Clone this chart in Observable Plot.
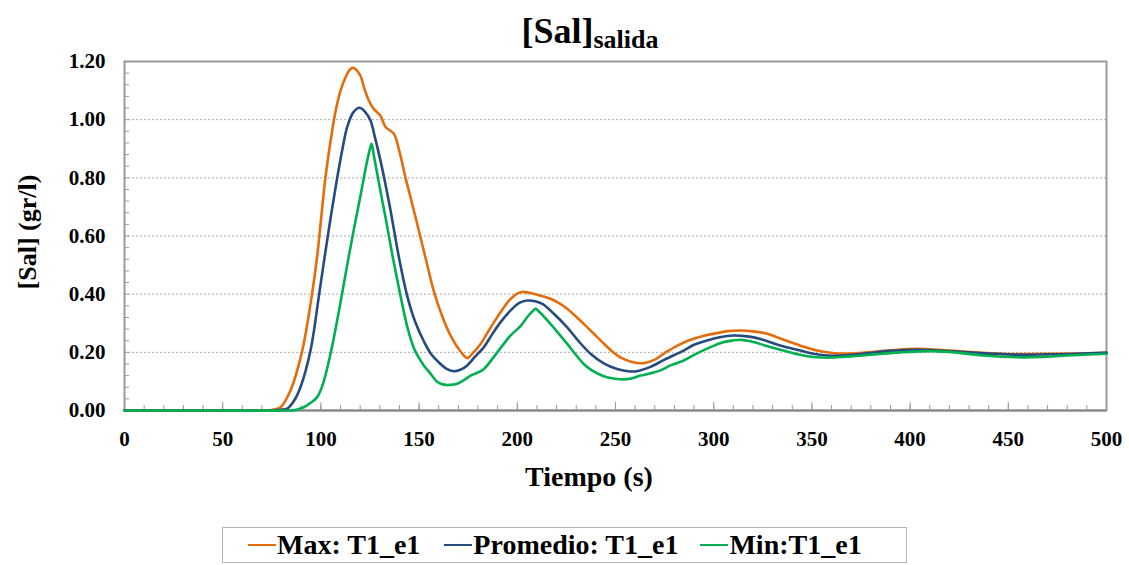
<!DOCTYPE html>
<html>
<head>
<meta charset="utf-8">
<script src="https://cdn.jsdelivr.net/npm/d3@7"></script>
<script src="https://cdn.jsdelivr.net/npm/@observablehq/plot@0.6"></script>
<style>
  html, body { margin: 0; padding: 0; background: #fff; }
  #chart { position: relative; width: 1129px; height: 565px; font-family: "Liberation Serif", "Times New Roman", "Nimbus Roman", "FreeSerif", "DejaVu Serif", serif; font-weight: bold; color: #000; }
  #chart svg { position: absolute; left: 0; top: 0; }
  .title { position: absolute; left: 440px; width: 300px; top: 13px; text-align: center; font-size: 36px; line-height: 1; white-space: nowrap; }
  .title sub { font-size: 26px; vertical-align: -5px; }
  .xlabel { position: absolute; left: 489px; width: 200px; top: 463px; text-align: center; font-size: 28px; line-height: 1; }
  .ylabel { position: absolute; left: 28px; top: 232px; font-size: 26px; line-height: 1; white-space: nowrap; transform: translate(-50%, -50%) rotate(-90deg); }
  .legend { position: absolute; left: 222px; top: 527px; width: 683px; height: 34px; border: 1.5px solid #b4b4b4; display: flex; align-items: center; font-size: 28px; line-height: 1; }
  .legend .item { display: flex; align-items: center; white-space: nowrap; }
  .legend .sw { display: inline-block; width: 28px; height: 2.5px; margin-right: 1px; }
</style>
</head>
<body>
<div id="chart">
  <div class="title">[Sal]<sub>salida</sub></div>
  <div class="xlabel">Tiempo (s)</div>
  <div class="ylabel">[Sal] (gr/l)</div>
  <div class="legend" id="legend"></div>
</div>
<script>
// Salt concentration at the outlet over time: max, mean and min runs.
const seriesNames = ["Max: T1_e1", "Promedio: T1_e1", "Min:T1_e1"];
const seriesColors = ["#E46C0A", "#264B80", "#00B050"];

const maxT = [0, 40, 70, 75, 79.4, 84.5, 90.5, 95.5, 98.1, 102.3, 105, 107.5, 110, 112.5, 114.5, 116, 118, 120.2, 122, 124.4, 126.9, 130.3, 132.9, 137.1, 140, 143.1, 145, 149, 153.2, 157.5, 162, 166, 170, 174.5, 177, 181.3, 185.5, 189.8, 196.6, 201.6, 206, 211.8, 216.9, 221, 225.4, 233.8, 242.4, 248, 252.5, 258, 264.4, 270, 276.3, 282, 288.2, 295, 301.7, 307, 313.6, 320, 327.2, 335, 344.2, 352, 361.2, 370, 378.2, 390, 403.6, 412, 420.6, 433, 446, 460, 471.5, 485, 500];
const maxV = [0, 0, 0, 0.002, 0.011, 0.069, 0.206, 0.401, 0.53, 0.8, 0.93, 1.03, 1.1, 1.145, 1.17, 1.178, 1.172, 1.15, 1.11, 1.066, 1.037, 1.014, 0.975, 0.952, 0.89, 0.8, 0.75, 0.642, 0.527, 0.41, 0.32, 0.258, 0.213, 0.18, 0.195, 0.229, 0.275, 0.321, 0.384, 0.407, 0.405, 0.395, 0.384, 0.37, 0.35, 0.298, 0.241, 0.205, 0.183, 0.168, 0.163, 0.175, 0.203, 0.225, 0.243, 0.257, 0.266, 0.273, 0.275, 0.272, 0.264, 0.245, 0.223, 0.207, 0.197, 0.196, 0.2, 0.207, 0.212, 0.21, 0.206, 0.2, 0.195, 0.194, 0.195, 0.196, 0.198];

const avgT = [0, 40, 75, 80, 82.8, 86, 89.6, 94.7, 98.9, 101.5, 104.9, 108.3, 111, 113.4, 116.5, 119.7, 122.5, 125.2, 127.5, 130.3, 132.5, 135.4, 138.8, 140.5, 143.9, 148, 152.4, 156, 160.9, 164, 167.7, 171, 174.5, 178.5, 183, 187, 191.4, 196.6, 201, 205, 209, 213, 219, 225.4, 231, 237.3, 244, 250.8, 257.6, 262, 267.8, 275, 284.7, 290, 296.6, 303, 310.2, 317, 323.8, 333, 344.2, 350, 357.8, 368, 378.2, 390, 403.6, 415, 429, 442, 454.5, 470, 485, 500];
const avgV = [0, 0, 0, 0.003, 0.006, 0.03, 0.08, 0.206, 0.39, 0.51, 0.66, 0.8, 0.9, 0.975, 1.025, 1.041, 1.027, 0.998, 0.94, 0.86, 0.79, 0.69, 0.56, 0.5, 0.395, 0.305, 0.238, 0.195, 0.16, 0.143, 0.135, 0.14, 0.155, 0.185, 0.218, 0.26, 0.303, 0.344, 0.37, 0.378, 0.376, 0.366, 0.33, 0.286, 0.24, 0.195, 0.162, 0.143, 0.134, 0.137, 0.15, 0.175, 0.206, 0.226, 0.241, 0.252, 0.258, 0.255, 0.246, 0.225, 0.206, 0.196, 0.189, 0.19, 0.197, 0.205, 0.209, 0.206, 0.2, 0.195, 0.192, 0.193, 0.195, 0.199];

const minT = [0, 40, 82, 87, 91.3, 94.5, 98.1, 101, 104.9, 108.3, 111, 114.2, 117, 120.2, 123, 124.8, 125.8, 127, 130.3, 133, 136.8, 140.5, 143.9, 147.3, 150, 152.4, 155.9, 159, 162.6, 166, 169.4, 173, 176.2, 179, 183, 189.8, 196.6, 201.6, 205.5, 208.3, 209.3, 210.5, 216.9, 225.4, 233.8, 238, 244, 249, 254.2, 258, 262.7, 268, 272.9, 278, 284.7, 291, 298.4, 304, 310.2, 314, 318.7, 327, 335.6, 344, 352.6, 360, 369.6, 382, 395, 412, 425, 437.5, 454.5, 467, 480, 500];
const minV = [0, 0, 0, 0.002, 0.011, 0.025, 0.046, 0.09, 0.195, 0.31, 0.41, 0.53, 0.63, 0.74, 0.84, 0.895, 0.917, 0.875, 0.755, 0.66, 0.52, 0.395, 0.29, 0.215, 0.18, 0.155, 0.126, 0.1, 0.089, 0.088, 0.092, 0.105, 0.12, 0.128, 0.143, 0.2, 0.258, 0.29, 0.325, 0.345, 0.35, 0.344, 0.298, 0.229, 0.16, 0.138, 0.118, 0.11, 0.107, 0.11, 0.12, 0.128, 0.138, 0.155, 0.172, 0.195, 0.218, 0.233, 0.241, 0.243, 0.238, 0.222, 0.206, 0.192, 0.183, 0.182, 0.186, 0.193, 0.2, 0.204, 0.198, 0.189, 0.183, 0.184, 0.189, 0.195];

const yMajor = [0, 0.2, 0.4, 0.6, 0.8, 1.0, 1.2];
const yMinor = d3.range(0, 31).map(i => +(i * 0.04).toFixed(2));
const xMajor = d3.range(0, 501, 50);
const xMinor = d3.range(0, 501, 10);

const rows = [
  ...maxT.map((t, i) => ({series: seriesNames[0], t, v: maxV[i]})),
  ...avgT.map((t, i) => ({series: seriesNames[1], t, v: avgV[i]})),
  ...minT.map((t, i) => ({series: seriesNames[2], t, v: minV[i]}))
];

const axisGray = "#9a9a9a";

const plot = Plot.plot({
  width: 1129,
  height: 565,
  marginTop: 61,
  marginBottom: 155,
  marginLeft: 124,
  marginRight: 23,
  style: {fontFamily: "'Liberation Serif', 'Times New Roman', 'Nimbus Roman', 'FreeSerif', 'DejaVu Serif', serif", fontWeight: "bold", fontSize: "21px", color: "#000", background: "transparent"},
  x: {domain: [0, 500], label: null},
  y: {domain: [0, 1.2], label: null},
  color: {domain: seriesNames, range: seriesColors},
  marks: [
    Plot.gridY(yMajor.filter(d => d > 0 && d < 1.2), {stroke: "#a8a8a8", strokeOpacity: 1, strokeWidth: 1, strokeDasharray: "2,2"}),
    Plot.frame({stroke: axisGray, strokeWidth: 2}),
    Plot.axisY(yMinor, {tickSize: -5, fill: "none", stroke: axisGray, label: null}),
    Plot.axisY(yMajor, {tickSize: 0, tickPadding: 19, tickFormat: d => d.toFixed(2), fill: "#000", label: null, fontSize: 21}),
    Plot.axisX(xMinor, {tickSize: -5, fill: "none", stroke: axisGray, label: null}),
    Plot.axisX(xMajor, {tickSize: -8, fill: "none", stroke: axisGray, label: null}),
    Plot.axisX(xMajor, {tickSize: 0, tickPadding: 21, fill: "#000", label: null, fontSize: 21}),
    Plot.ruleY([0], {stroke: "#888", strokeWidth: 2}),
    Plot.line(rows, {x: "t", y: "v", z: "series", stroke: "series", strokeWidth: 2.6, curve: "catmull-rom"})
  ]
});
document.getElementById("chart").prepend(plot);

// Legend below the plot
const legend = document.getElementById("legend");
const gaps = [25, 24, 22];
seriesNames.forEach((name, i) => {
  const item = document.createElement("div");
  item.className = "item";
  item.style.marginLeft = gaps[i] + "px";
  const sw = document.createElement("span");
  sw.className = "sw";
  sw.style.background = seriesColors[i];
  const label = document.createElement("span");
  label.textContent = name;
  item.append(sw, label);
  legend.append(item);
});
</script>
</body>
</html>
